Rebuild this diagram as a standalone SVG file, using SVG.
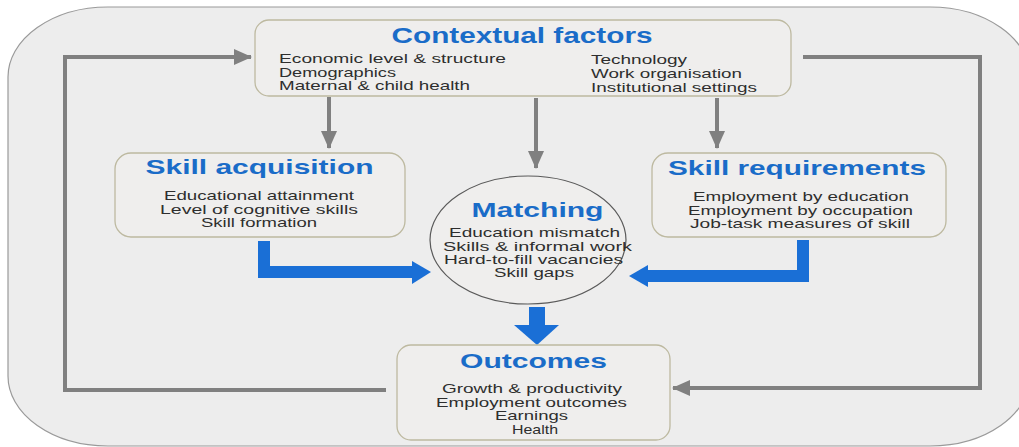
<svg xmlns="http://www.w3.org/2000/svg" width="1019" height="447" viewBox="0 0 1019 447">
  <style>
    .box { fill: #efeeed; stroke: #bdb9a0; stroke-width: 1.3; }
    .title { font-family: "Liberation Sans", Arial, sans-serif; font-weight: bold; fill: #1a6cc8; text-anchor: middle; }
    .body { font-family: "Liberation Sans", Arial, sans-serif; font-size: 13px; fill: #2e2e2e; }
    .mid { text-anchor: middle; }
    .grey { fill: none; stroke: #808080; stroke-width: 4; stroke-linejoin: miter; }
    .blue { fill: none; stroke: #1a6fd6; stroke-width: 12; stroke-linejoin: miter; }
    .bluehead { fill: #1a6fd6; }
  </style>
  <defs>
    <marker id="gh" viewBox="0 0 18 18" refX="17" refY="9" markerWidth="18" markerHeight="18" orient="auto" markerUnits="userSpaceOnUse">
      <path d="M0,1 L18,9 L0,17 Z" fill="#808080"/>
    </marker>
  </defs>

  <rect width="1019" height="447" fill="#ffffff"/>
  <!-- outer frame -->
  <rect x="8" y="7" width="1022" height="439" rx="100" ry="70" fill="#ededed" stroke="#9a9a9a" stroke-width="1.2"/>

  <g id="connectors">
    <!-- context to the three blocks -->
    <line class="grey" x1="329" y1="97" x2="329" y2="148" marker-end="url(#gh)"/>
    <line class="grey" x1="536" y1="98" x2="536" y2="168" marker-end="url(#gh)"/>
    <line class="grey" x1="717" y1="98" x2="717" y2="148" marker-end="url(#gh)"/>
    <!-- feedback loops -->
    <polyline class="grey" points="386,390 65,390 65,57 251,57" marker-end="url(#gh)"/>
    <polyline class="grey" points="803,57 980,57 980,388 673,388" marker-end="url(#gh)"/>
    <!-- blue flows -->
    <polyline class="blue" points="264,241 264,272 414,272"/>
    <path class="bluehead" d="M412,261 L431,272 L412,284 Z"/>
    <polyline class="blue" points="803,240 803,276 646,276"/>
    <path class="bluehead" d="M648,265 L629,276 L648,287 Z"/>
    <rect class="bluehead" x="529" y="307" width="16" height="20"/>
    <path class="bluehead" d="M514,325 L559,325 L537,345 Z"/>
  </g>

  <g id="contextual-factors">
    <rect class="box" x="255" y="20" width="536" height="76" rx="14"/>
    <text class="title" x="522" y="43" font-size="22" textLength="261" lengthAdjust="spacingAndGlyphs">Contextual factors</text>
    <text class="body" x="279" y="63" textLength="227" lengthAdjust="spacingAndGlyphs">Economic level &amp; structure</text>
    <text class="body" x="279" y="77" textLength="117" lengthAdjust="spacingAndGlyphs">Demographics</text>
    <text class="body" x="279" y="90" textLength="191" lengthAdjust="spacingAndGlyphs">Maternal &amp; child health</text>
    <text class="body" x="591" y="64" textLength="96" lengthAdjust="spacingAndGlyphs">Technology</text>
    <text class="body" x="591" y="78" textLength="151" lengthAdjust="spacingAndGlyphs">Work organisation</text>
    <text class="body" x="591" y="92" textLength="166" lengthAdjust="spacingAndGlyphs">Institutional settings</text>
  </g>

  <g id="skill-acquisition">
    <rect class="box" x="115" y="153" width="290" height="84" rx="16"/>
    <text class="title" x="259.5" y="174" font-size="21" textLength="228" lengthAdjust="spacingAndGlyphs">Skill acquisition</text>
    <text class="body mid" x="259" y="200" textLength="190" lengthAdjust="spacingAndGlyphs">Educational attainment</text>
    <text class="body mid" x="259" y="214" textLength="198" lengthAdjust="spacingAndGlyphs">Level of cognitive skills</text>
    <text class="body mid" x="259" y="227" textLength="116" lengthAdjust="spacingAndGlyphs">Skill formation</text>
  </g>

  <g id="skill-requirements">
    <rect class="box" x="652" y="153" width="294" height="84" rx="16"/>
    <text class="title" x="797" y="175" font-size="21" textLength="258" lengthAdjust="spacingAndGlyphs">Skill requirements</text>
    <text class="body mid" x="801" y="201" textLength="216" lengthAdjust="spacingAndGlyphs">Employment by education</text>
    <text class="body mid" x="800.5" y="215" textLength="225" lengthAdjust="spacingAndGlyphs">Employment by occupation</text>
    <text class="body mid" x="800" y="228" textLength="220" lengthAdjust="spacingAndGlyphs">Job-task measures of skill</text>
  </g>

  <g id="matching">
    <ellipse cx="528" cy="240" rx="98" ry="64" fill="#efeeed" stroke="#5a5a5a" stroke-width="1.2"/>
    <text class="title" x="537.5" y="217" font-size="20" textLength="132" lengthAdjust="spacingAndGlyphs">Matching</text>
    <text class="body mid" x="534.5" y="237" textLength="171" lengthAdjust="spacingAndGlyphs">Education mismatch</text>
    <text class="body mid" x="537.5" y="251" textLength="189" lengthAdjust="spacingAndGlyphs">Skills &amp; informal work</text>
    <text class="body mid" x="533.5" y="264" textLength="179" lengthAdjust="spacingAndGlyphs">Hard-to-fill vacancies</text>
    <text class="body mid" x="534" y="277" textLength="80" lengthAdjust="spacingAndGlyphs">Skill gaps</text>
  </g>

  <g id="outcomes">
    <rect class="box" x="397" y="345" width="273" height="95" rx="14"/>
    <text class="title" x="533.5" y="368" font-size="20" textLength="147" lengthAdjust="spacingAndGlyphs">Outcomes</text>
    <text class="body mid" x="532" y="393" textLength="180" lengthAdjust="spacingAndGlyphs">Growth &amp; productivity</text>
    <text class="body mid" x="531.5" y="407" textLength="191" lengthAdjust="spacingAndGlyphs">Employment outcomes</text>
    <text class="body mid" x="531.5" y="420" textLength="73" lengthAdjust="spacingAndGlyphs">Earnings</text>
    <text class="body mid" x="535" y="434" textLength="46" lengthAdjust="spacingAndGlyphs">Health</text>
  </g>
</svg>
